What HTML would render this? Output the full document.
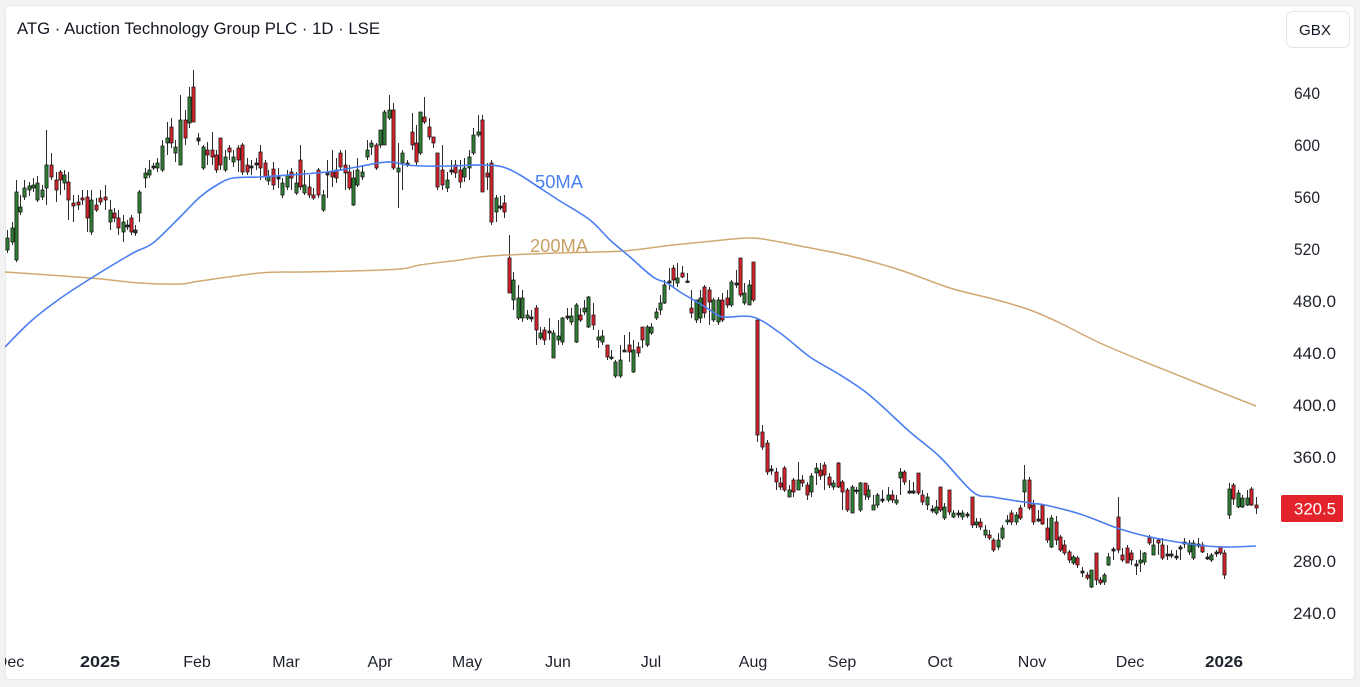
<!DOCTYPE html>
<html><head><meta charset="utf-8">
<style>
html,body{margin:0;padding:0;background:#f2f2f2;width:1360px;height:687px;overflow:hidden}
svg{display:block}
text{font-family:"Liberation Sans",sans-serif}
</style></head><body>
<svg width="1360" height="687" viewBox="0 0 1360 687" xmlns="http://www.w3.org/2000/svg">
<defs><clipPath id="pc"><rect x="5" y="5" width="1350" height="675" rx="4"/></clipPath></defs>
<rect x="5.5" y="5.5" width="1349" height="674" rx="4" fill="#ffffff" stroke="#e8e8e8"/>
<g clip-path="url(#pc)">
<g id="candles"></g>
<path id="ma200" fill="none" stroke="#d2a872" stroke-width="1.5" stroke-linejoin="round" d=""/>
<path id="ma50" fill="none" stroke="#4a7ef2" stroke-width="1.6" stroke-linejoin="round" d=""/>
<text x="535" y="188" font-size="18" fill="#4a7ef2" textLength="48" lengthAdjust="spacingAndGlyphs">50MA</text>
<text x="530" y="252" font-size="18" fill="#c9a065" textLength="58" lengthAdjust="spacingAndGlyphs">200MA</text>

<g font-size="16" fill="#1e222d" text-anchor="middle">
<text x="10" y="667">Dec</text>
<text x="100" y="667" font-weight="bold" textLength="40" lengthAdjust="spacingAndGlyphs">2025</text>
<text x="197" y="667">Feb</text>
<text x="286" y="667">Mar</text>
<text x="380" y="667">Apr</text>
<text x="467" y="667">May</text>
<text x="558" y="667">Jun</text>
<text x="651" y="667">Jul</text>
<text x="753" y="667">Aug</text>
<text x="842" y="667">Sep</text>
<text x="940" y="667">Oct</text>
<text x="1032" y="667">Nov</text>
<text x="1130" y="667">Dec</text>
<text x="1224" y="667" font-weight="bold" textLength="38" lengthAdjust="spacingAndGlyphs">2026</text>
</g>
</g>

<text x="17" y="34" font-size="17" fill="#131722" textLength="363" lengthAdjust="spacingAndGlyphs">ATG · Auction Technology Group PLC · 1D · LSE</text>

<rect x="1286.5" y="11.5" width="63" height="36" rx="6" fill="#fff" stroke="#e3e5ea"/>
<text x="1315" y="35" font-size="15" fill="#131722" text-anchor="middle" textLength="32" lengthAdjust="spacingAndGlyphs">GBX</text>

<g font-size="16.5" fill="#1e222d">
<text x="1294" y="99" textLength="26" lengthAdjust="spacingAndGlyphs">640</text>
<text x="1294" y="151" textLength="26" lengthAdjust="spacingAndGlyphs">600</text>
<text x="1294" y="203" textLength="26" lengthAdjust="spacingAndGlyphs">560</text>
<text x="1294" y="255" textLength="26" lengthAdjust="spacingAndGlyphs">520</text>
<text x="1293" y="307" textLength="43" lengthAdjust="spacingAndGlyphs">480.0</text>
<text x="1293" y="359" textLength="43" lengthAdjust="spacingAndGlyphs">440.0</text>
<text x="1293" y="411" textLength="43" lengthAdjust="spacingAndGlyphs">400.0</text>
<text x="1293" y="463" textLength="43" lengthAdjust="spacingAndGlyphs">360.0</text>
<text x="1293" y="567" textLength="43" lengthAdjust="spacingAndGlyphs">280.0</text>
<text x="1293" y="619" textLength="43" lengthAdjust="spacingAndGlyphs">240.0</text>
</g>
<rect x="1281" y="495" width="62" height="27" rx="2" fill="#e2232b"/>
<text x="1294" y="514.5" font-size="16.5" fill="#ffffff" textLength="42" lengthAdjust="spacingAndGlyphs">320.5</text>
</svg>
<script>
function smooth(pts){
  var p=pts.trim().split(/\s+/).map(function(q){var a=q.split(',');return [+a[0],+a[1]];});
  var d='M'+p[0][0]+','+p[0][1];
  for(var i=0;i<p.length-1;i++){
    var p0=p[i>0?i-1:0],p1=p[i],p2=p[i+1],p3=p[i+2<p.length?i+2:p.length-1];
    var c1x=p1[0]+(p2[0]-p0[0])/6,c1y=p1[1]+(p2[1]-p0[1])/6;
    var c2x=p2[0]-(p3[0]-p1[0])/6,c2y=p2[1]-(p3[1]-p1[1])/6;
    d+=' C'+c1x.toFixed(1)+','+c1y.toFixed(1)+' '+c2x.toFixed(1)+','+c2y.toFixed(1)+' '+p2[0]+','+p2[1];
  }
  return d;
}
document.getElementById('ma200').setAttribute('d',smooth("5,272 90,278 140,283 180,284 200,281 260,273 300,272 350,271 400,269 420,265 460,260 490,256 557,253 623,251 673,245 723,240 753,238 780,242 800,246 850,256 900,270 950,288 997,300 1030,310 1060,323 1100,343 1150,364 1200,384 1256,406"));
document.getElementById('ma50').setAttribute('d',smooth("5,347 30,322 58,300 93,277 133,253 153,243 180,217 200,197 217,185 233,178 260,177 290,175 327,172 357,167 387,162 407,165 423,166 450,166 483,165 503,167 520,175 540,188 560,201 590,220 610,240 630,257 653,277 667,283 680,292 697,302 710,310 723,317 753,317 780,333 810,357 837,373 863,390 883,407 910,432 940,457 973,492 993,497 1030,503 1045,505 1080,514 1120,529 1150,537 1190,544 1222,547 1256,546"));

var D="7 238 250 g 230 253;12 228 242 g 222 245;16 192 260 g 180 262;20 207 212 g 195 215;24 188 197 g 180 200;29 186 190 g 182 196;33 185 188 g 178 192;37 183 200 g 176 202;42 190 197 g 185 200;46 165 188 g 130 205;51 165 177 r 153 180;56 180 190 r 172 202;60 172 180 r 170 195;64 175 183 g 170 190;68 182 200 r 172 220;73 203 206 r 195 222;78 202 205 r 195 210;82 198 200 r 190 205;87 197 218 r 190 232;91 200 232 g 190 235;96 205 210 r 198 212;100 198 202 r 190 205;105 197 200 r 185 210;110 210 222 g 200 230;114 213 218 r 208 222;118 218 228 r 210 235;123 222 232 g 215 242;127 225 227 n 220 230;131 218 232 r 215 235;135 230 233 n 225 236;139 192 213 g 190 222;145 173 178 g 168 188;149 170 175 g 160 178;153 166 168 n 163 170;157 163 168 g 158 172;162 146 170 g 140 172;167 138 143 g 122 155;171 127 143 r 118 148;175 147 153 g 140 162;180 120 165 g 95 165;185 120 138 r 110 145;189 97 123 g 87 128;193 87 122 r 70 122;198 138 141 n 133 145;203 147 168 g 145 170;207 150 155 r 142 165;212 150 157 r 132 165;216 155 170 r 150 173;220 138 165 r 138 170;225 157 170 g 150 172;229 148 152 r 145 160;233 157 162 g 150 167;238 148 160 r 145 172;242 145 172 r 143 175;247 165 172 r 158 175;"+
"251 166 168 n 160 175;256 163 165 n 158 170;260 152 168 r 145 180;265 163 177 r 160 180;268 177 181 g 170 185;273 169 185 r 162 190;278 177 179 n 168 188;282 183 195 g 178 198;287 175 187 g 170 190;291 172 178 r 168 190;296 183 193 g 172 195;300 160 187 r 145 190;304 185 193 g 170 195;309 187 195 r 175 198;313 195 198 r 188 200;318 170 195 r 168 198;323 195 210 g 190 212;327 172 175 n 160 198;332 172 177 r 150 187;336 170 178 r 158 183;340 153 167 r 150 170;345 165 173 r 150 190;349 172 188 r 165 190;353 178 205 g 170 206;357 170 185 g 158 187;362 172 177 g 165 180;367 150 157 g 140 160;371 143 147 g 140 155;376 145 168 r 143 170;380 130 145 g 130 148;384 112 145 g 110 145;389 110 118 g 95 120;393 110 168 r 103 170;398 168 172 g 143 208;402 153 163 g 150 190;407 163 165 n 160 167;412 132 145 r 113 150;416 143 162 r 125 165;420 112 153 g 112 155;424 117 122 r 97 124;429 127 137 r 118 140;433 137 143 r 137 148;437 153 187 r 153 190;442 170 185 r 145 190;447 180 188 g 172 192;451 170 172 n 160 175;455 165 173 r 160 178;460 170 182 r 160 188;464 168 177 g 158 182;469 157 168 g 150 180;473 135 153 g 128 155;478 132 135 g 115 137;482 120 192 r 115 192;487 173 177 r 163 190;491 163 222 r 160 225;496 198 212 g 195 222;500 206 208 n 196 210;504 203 212 r 195 218;"+
"509 258 293 r 235 293;513 280 300 g 272 310;518 298 318 g 285 320;522 298 318 g 290 322;527 315 318 g 310 320;531 317 319 n 310 322;536 308 330 r 305 345;540 333 338 g 327 340;544 330 340 r 327 345;549 331 333 n 318 340;553 333 358 g 330 358;558 336 340 g 320 345;562 318 342 g 317 345;567 316 318 n 308 320;571 316 322 g 308 325;576 305 342 g 303 343;580 315 320 r 308 322;584 308 312 g 300 315;588 297 327 g 296 328;593 315 325 r 303 330;598 337 340 g 330 348;602 336 342 g 330 345;607 345 357 r 345 360;611 357 358 n 350 360;615 362 376 g 360 378;620 360 376 g 345 378;624 350 352 n 335 352;629 345 352 r 332 362;633 350 372 g 340 373;638 347 353 r 342 357;642 327 340 r 327 348;647 327 345 g 325 347;651 327 333 g 323 335;656 312 318 g 308 320;660 303 310 g 295 315;664 285 303 g 280 304;669 281 283 n 268 290;673 268 280 r 265 287;677 278 283 g 263 287;682 273 277 r 266 278;687 281 282 n 273 283;691 308 313 r 290 318;696 300 320 g 300 323;700 298 318 g 290 323;704 287 313 r 285 318;709 290 302 r 287 325;713 300 320 g 298 322;718 300 322 g 297 325;722 300 320 r 293 322;727 298 305 r 290 308;731 282 305 g 280 307;736 283 285 n 270 288;740 258 295 r 258 297;744 293 303 g 283 305;749 285 305 g 280 305;753 262 300 r 262 302;757 320 435 r 318 442;"+
"762 432 447 r 425 450;767 443 472 r 440 475;771 469 471 n 465 475;776 472 482 r 468 490;780 483 487 r 477 490;784 468 490 r 466 492;789 490 497 g 485 497;793 480 492 r 478 497;798 480 490 g 462 490;802 480 483 r 475 487;807 485 495 r 482 500;811 476 492 g 473 497;816 468 473 g 463 485;820 470 476 r 463 480;824 465 475 r 462 490;829 477 485 r 473 488;833 483 487 g 480 490;838 463 487 r 462 488;842 482 492 r 480 510;847 490 510 r 488 512;852 487 513 g 485 513;856 490 491 n 487 494;860 483 510 g 482 512;865 483 495 r 483 500;868 490 497 g 485 500;873 505 510 g 495 510;877 495 505 g 493 508;882 499 501 n 490 503;888 495 500 g 487 502;892 495 500 r 490 503;896 500 503 g 495 505;900 472 478 g 468 495;904 472 482 r 470 485;909 491 493 n 480 494;913 491 493 n 482 494;918 473 493 r 473 495;922 495 502 r 490 505;927 497 505 g 493 510;932 509 511 n 505 513;936 507 513 g 500 515;940 487 510 r 487 512;944 507 518 g 503 520;949 490 512 r 490 515;953 513 517 g 510 518;958 513 515 n 510 518;962 513 517 g 510 520;967 514 516 n 512 518;972 497 525 r 497 528;976 522 525 g 518 528;980 522 527 r 518 530;985 530 535 g 525 538;989 535 538 r 530 540;"+
"993 540 550 r 538 552;998 540 547 g 533 550;1002 528 538 g 525 540;1007 520 522 g 515 525;1011 513 522 r 510 525;1016 515 522 g 512 525;1020 508 518 r 505 520;1024 480 492 g 465 507;1029 480 508 r 477 510;1033 505 522 r 500 525;1038 519 521 n 510 522;1042 505 524 r 505 525;1047 528 540 r 518 543;1051 518 547 g 515 548;1056 522 540 r 516 545;1060 537 550 r 535 552;1064 545 553 r 540 555;1069 552 560 r 550 563;1073 557 563 g 555 565;1077 558 565 r 556 568;1082 571 573 n 567 577;1087 575 578 r 572 580;1091 570 587 g 570 588;1096 553 580 r 553 585;1100 580 583 r 577 585;1104 575 582 g 573 585;1108 557 565 g 553 566;1113 549 551 n 547 560;1118 517 550 r 497 553;1122 555 560 r 548 562;1127 548 563 r 545 563;1131 553 560 r 550 565;1136 564 566 n 560 575;1140 560 563 g 550 572;1144 553 562 g 552 565;1149 538 543 r 535 545;1153 545 555 g 537 555;1158 540 543 r 538 555;1162 545 558 r 538 560;1167 554 556 n 545 560;1171 554 556 n 550 558;1176 556 558 n 550 560;1180 547 549 n 545 560;1184 542 544 n 538 548;1189 543 552 g 540 555;1193 543 558 g 540 560;1198 544 546 n 538 548;1202 545 552 r 542 553;1207 557 559 n 553 560;1211 555 560 g 553 562;1216 552 554 n 550 557;1220 547 553 r 546 555;1224 553 575 r 550 579;1229 489 515 g 483 519;1233 485 499 r 483 505;1238 493 507 g 490 508;1242 498 507 g 495 508;1247 498 505 g 490 506;1251 489 505 r 487 506;1256 505 508 r 497 514";
var s='';
D.split(';').forEach(function(e){
  var a=e.trim().split(/\s+/); if(a.length<6) return;
  var x=+a[0],t=+a[1],b=+a[2],c=a[3],wt=+a[4],wb=+a[5];
  var xc=x+0.5;
  s+='<line x1="'+xc+'" x2="'+xc+'" y1="'+wt+'" y2="'+wb+'" stroke="#2b2b2b" stroke-width="1"/>';
  var h=Math.max(b-t,1.5);
  var f=c=='g'?'#2e7d32':(c=='r'?'#d2222b':'#333333');
  s+='<rect x="'+(xc-1.6)+'" y="'+t+'" width="3.2" height="'+h+'" fill="'+f+'" stroke="#111111" stroke-width="0.7"/>';
});
document.getElementById('candles').innerHTML=s;
</script>
</body></html>
